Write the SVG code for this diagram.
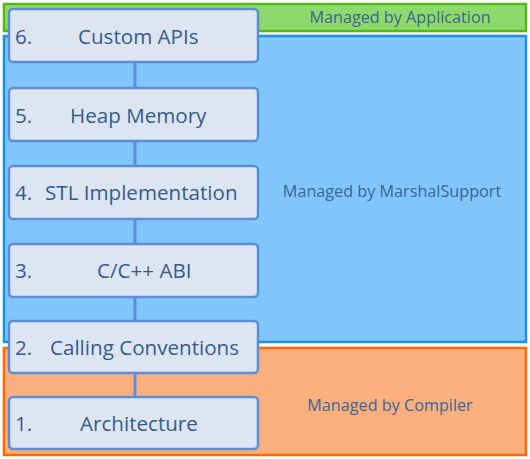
<svg xmlns="http://www.w3.org/2000/svg" width="530" height="459" viewBox="0 0 530 459">
<style>
.node rect{fill:#DCE5F1;stroke:#5B8ED6;stroke-width:2.5}
.node text{font-family:"Open Sans","Liberation Sans",sans-serif;font-size:20.6px;fill:#355C8C}
.zone text{font-family:"Open Sans","Liberation Sans",sans-serif;font-size:16.2px;fill:#3A6496}
.conn line{stroke:#5B8ED6;stroke-width:3}
</style>
<rect width="530" height="459" fill="#ffffff"/>
<g id="zone-app" class="zone">
<rect x="4" y="4" width="522" height="27" fill="#8FD96A" stroke="#55B81A" stroke-width="2.5"/>
<text x="400" y="23" text-anchor="middle">Managed by Application</text>
</g>
<g id="zone-marshal" class="zone">
<rect x="4" y="36" width="522" height="306" fill="#80C6FC" stroke="#1A8FEF" stroke-width="2.5"/>
<text x="392" y="197" text-anchor="middle">Managed by MarshalSupport</text>
</g>
<g id="zone-compiler" class="zone">
<rect x="4" y="348" width="522" height="107" fill="#FDB07E" stroke="#FF6A00" stroke-width="2.5"/>
<text x="390" y="411" text-anchor="middle">Managed by Compiler</text>
</g>
<g id="connectors" class="conn">
<line x1="135" y1="62" x2="135" y2="397"/>
</g>
<g id="node6" class="node">
<rect x="9" y="9" width="249" height="53" rx="4"/>
<text x="15" y="44">6.</text><text x="78" y="44">Custom APIs</text>
</g>
<g id="node5" class="node">
<rect x="9" y="88" width="249" height="53" rx="4"/>
<text x="15" y="123">5.</text><text x="70" y="123">Heap Memory</text>
</g>
<g id="node4" class="node">
<rect x="9" y="166" width="249" height="53" rx="4"/>
<text x="15" y="200">4.</text><text x="45" y="200">STL Implementation</text>
</g>
<g id="node3" class="node">
<rect x="9" y="244" width="249" height="53" rx="4"/>
<text x="15" y="278">3.</text><text x="97" y="278">C/C++ ABI</text>
</g>
<g id="node2" class="node">
<rect x="9" y="321" width="249" height="52" rx="4"/>
<text x="15" y="355">2.</text><text x="50" y="355">Calling Conventions</text>
</g>
<g id="node1" class="node">
<rect x="9" y="397" width="249" height="52" rx="4"/>
<text x="15" y="431">1.</text><text x="80" y="431">Architecture</text>
</g>
</svg>
